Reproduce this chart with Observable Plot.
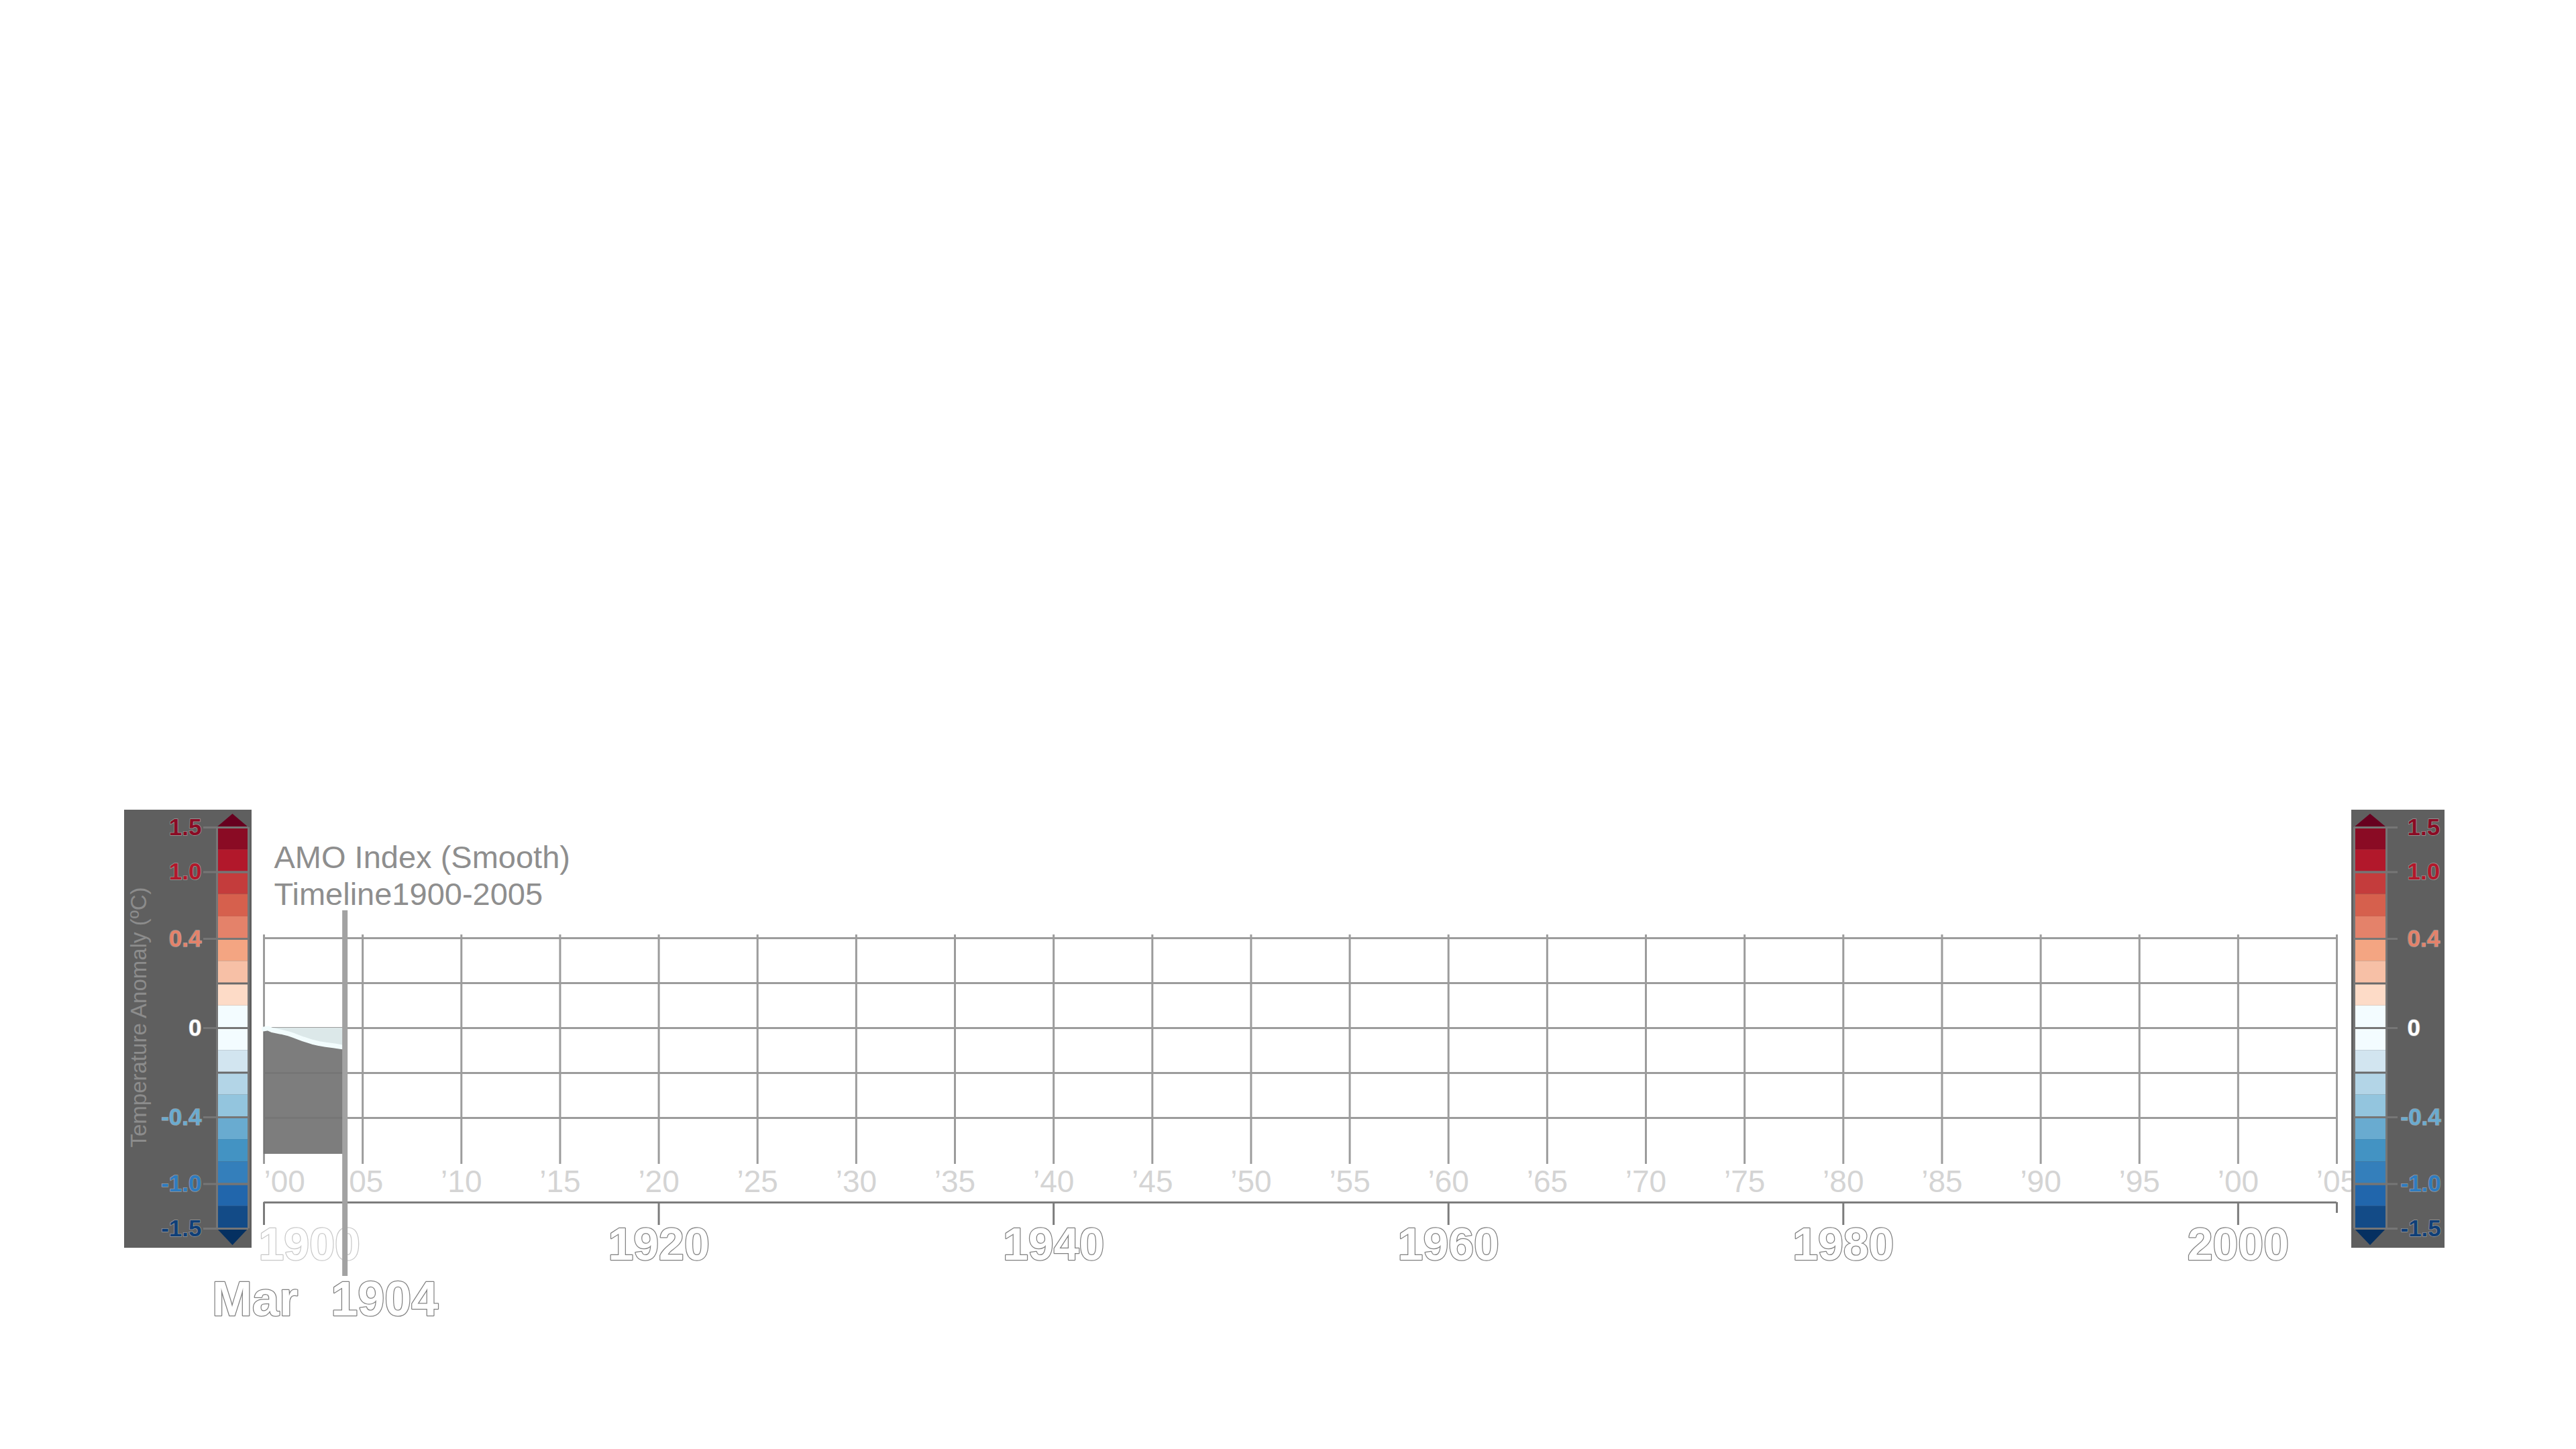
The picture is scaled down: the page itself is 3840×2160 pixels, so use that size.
<!DOCTYPE html>
<html>
<head>
<meta charset="utf-8">
<script src="https://cdn.jsdelivr.net/npm/d3@7"></script>
<script src="https://cdn.jsdelivr.net/npm/@observablehq/plot@0.6"></script>
<style>
  html, body { margin: 0; padding: 0; background: #ffffff; }
  #stage { position: relative; width: 3840px; height: 2160px; background: #ffffff; overflow: hidden;
           font-family: "Liberation Sans", Arial, Helvetica, sans-serif; }
  #stage > div { position: absolute; }
</style>
</head>
<body>
<div id="stage">
  <div id="main" style="left:0;top:0"></div>
  <div id="legL" style="left:185px;top:1207px"></div>
  <div id="legR" style="left:3505px;top:1207px"></div>
</div>
<script>
// ---------------- data ----------------
const titleLines = ["AMO Index (Smooth)", "Timeline1900-2005"];
const seriesYear  = [1900.0, 1900.2, 1900.41, 1900.86, 1901.2, 1901.54, 1901.99, 1902.45, 1902.79, 1903.13, 1903.58, 1903.92, 1904.1];
const seriesValue = [-0.004, -0.001, -0.009, -0.017, -0.024, -0.034, -0.049, -0.062, -0.069, -0.074, -0.079, -0.084, -0.086];
const areaFloor = -0.561;
const gridValues = [-0.4, -0.2, 0, 0.2, 0.4];
const gridYears = [1900,1905,1910,1915,1920,1925,1930,1935,1940,1945,1950,1955,1960,1965,1970,1975,1980,1985,1990,1995,2000,2005];
const decadeYears = [1900, 1920, 1940, 1960, 1980, 2000];
const endYear = [2005];
const cursorYear = 1904.1;
const cursorMonth = "Mar";
const cursorYearLabel = "1904";

// colour bar: 18 equal bands, top (1.5) to bottom (-1.5)
const bandColors = ["#8a0b24","#b2182b","#c43c3c","#d6604d","#e4826a","#f4a582","#f7c0a6","#fddbc7",
                    "#f3fcff","#f3fcff","#d2e5f0","#b3d5e7","#93c5de","#69abd0","#4393c3","#347fbb","#2166ac","#134b87"];
const arrowColors = ["#67001f", "#053061"];
const tickBands  = [0, 2, 5, 9, 13, 16, 18];
const tickLabels = ["1.5", "1.0", "0.4", "0", "-0.4", "-1.0", "-1.5"];
const tickColors = ["#8a0b24", "#b2182b", "#e4826a", "#ffffff", "#69abd0", "#2f7cc0", "#0f3f78"];
const separatorBands = [0, 2, 5, 7, 9, 11, 13, 16, 18];
const legendTitle = "Temperature Anomaly (ºC)";

// ---------------- main chart ----------------
const series = seriesYear.map((year, i) => ({year, value: seriesValue[i]}));
const gridColor = "#9c9c9c";
const fontFamily = '"Liberation Sans", Arial, Helvetica, sans-serif';
const yr2 = d => "\u2019" + String(d % 100).padStart(2, "0");
const bigText = {fontWeight: "bold", fill: "#ffffff", stroke: "#808080", strokeWidth: 2.5, paintOrder: "stroke"};

const main = Plot.plot({
  width: 3840, height: 2160,
  marginLeft: 393, marginRight: 357, marginTop: 1393, marginBottom: 425,
  style: {background: "transparent", fontFamily},
  x: {domain: [1900, 2005], axis: null, label: null},
  y: {domain: [-0.606, 0.415], axis: null, label: null},
  marks: [
    Plot.ruleX(gridYears, {stroke: gridColor, strokeWidth: 3}),
    Plot.ruleY(gridValues, {stroke: gridColor, strokeWidth: 3}),
    Plot.areaY(series, {x: "year", y1: 0, y2: "value", fill: "#dce8e9"}),
    Plot.areaY(series, {x: "year", y1: areaFloor, y2: "value", fill: "#737373", fillOpacity: 0.93}),
    Plot.lineY(series, {x: "year", y: "value", stroke: "#f2fcfd", strokeWidth: 7}),
    // lower axis
    Plot.ruleY([-0.606], {dy: 57, stroke: "#7c7c7c", strokeWidth: 3}),
    Plot.axisX({ticks: decadeYears, tickSize: 34, tickFormat: () => "", label: null, dy: 57, stroke: "#7c7c7c", strokeWidth: 3}),
    Plot.axisX({ticks: endYear, tickSize: 16, tickFormat: () => "", label: null, dy: 57, stroke: "#7c7c7c", strokeWidth: 3}),
    // small year labels
    Plot.text(gridYears.slice(0, 1), {x: d => d, frameAnchor: "bottom", dy: 27, lineAnchor: "middle", textAnchor: "start",
      text: yr2, fontSize: 46, fill: "#d4d4d4"}),
    Plot.text(gridYears.slice(1), {x: d => d, frameAnchor: "bottom", dy: 27, lineAnchor: "middle", textAnchor: "middle",
      text: yr2, fontSize: 46, fill: "#d4d4d4"}),
    // decade labels
    Plot.text(decadeYears.slice(0, 1), {x: d => d, frameAnchor: "bottom", dy: 121, dx: -8, lineAnchor: "middle", textAnchor: "start",
      text: d => String(d), fontSize: 68, ...bigText, stroke: "#c8c8c8"}),
    Plot.text(decadeYears.slice(1), {x: d => d, frameAnchor: "bottom", dy: 121, lineAnchor: "middle", textAnchor: "middle",
      text: d => String(d), fontSize: 68, ...bigText}),
    // cursor
    Plot.ruleX([cursorYear], {stroke: "#a2a2a2", strokeWidth: 8, insetTop: -36, insetBottom: -167}),
    Plot.text([cursorMonth], {x: cursorYear, frameAnchor: "bottom", dy: 202, dx: -70, lineAnchor: "middle", textAnchor: "end",
      text: d => d, fontSize: 72, ...bigText}),
    Plot.text([cursorYearLabel], {x: cursorYear, frameAnchor: "bottom", dy: 202, dx: -21, lineAnchor: "middle", textAnchor: "start",
      text: d => d, fontSize: 72, ...bigText}),
    // title
    Plot.text([titleLines[0]], {frameAnchor: "top-left", dx: 15, dy: -100, lineAnchor: "bottom", textAnchor: "start",
      text: d => d, fontSize: 47, fill: "#8e8e8e"}),
    Plot.text([titleLines[1]], {frameAnchor: "top-left", dx: 15, dy: -45, lineAnchor: "bottom", textAnchor: "start",
      text: d => d, fontSize: 47, fill: "#8e8e8e"})
  ]
});
document.getElementById("main").appendChild(main);

// ---------------- colour bar legends ----------------
const bandIdx = bandColors.map((_, i) => i);
function colorbar({width, barLeft, barRight, side}) {
  const height = 653, barTop = 26, barBottom = 624;
  const left = side === "left";
  const marks = [
    Plot.rect(bandIdx, {y1: d => d, y2: d => d + 1, fill: d => bandColors[d]}),
    Plot.areaY([0, 0.5, 1], {x: d => d, y1: 0, y2: d => d === 0.5 ? -0.6 : 0, fill: arrowColors[0]}),
    Plot.areaY([0, 0.5, 1], {x: d => d, y1: 18, y2: d => d === 0.5 ? 18.75 : 18, fill: arrowColors[1]}),
    Plot.ruleY(separatorBands, {stroke: "#6a6a6a", strokeWidth: 3}),
    Plot.ruleY(tickBands, left ? {stroke: "#767676", strokeWidth: 3, insetLeft: -20}
                               : {stroke: "#767676", strokeWidth: 3, insetRight: -17}),
    Plot.ruleX([0, 1], {y1: 0, y2: 18, stroke: "#767676", strokeWidth: 3}),
  ];
  const labelStyle = {y: d => d, frameAnchor: left ? "left" : "right", lineAnchor: "middle",
    fontSize: 35, fontWeight: "bold", stroke: "#9a9a9a", strokeWidth: 1.5, paintOrder: "stroke"};
  if (left) {
    marks.push(Plot.text(tickBands, {...labelStyle, dx: -23, textAnchor: "end",
      text: (d, i) => tickLabels[i], fill: (d, i) => tickColors[i]}));
    marks.push(Plot.text([legendTitle], {frameAnchor: "left", textAnchor: "middle", dx: -116, dy: -16, rotate: -90,
      text: d => d, fontSize: 33, fill: "#8c8c8c"}));
  } else {
    const pos = tickBands.map((d, i) => i).filter(i => !tickLabels[i].startsWith("-"));
    const neg = tickBands.map((d, i) => i).filter(i => tickLabels[i].startsWith("-"));
    marks.push(Plot.text(pos, {...labelStyle, y: i => tickBands[i], dx: 31, textAnchor: "start",
      text: i => tickLabels[i], fill: i => tickColors[i]}));
    marks.push(Plot.text(neg, {...labelStyle, y: i => tickBands[i], dx: 21, textAnchor: "start",
      text: i => tickLabels[i], fill: i => tickColors[i]}));
  }
  return Plot.plot({
    width, height,
    marginLeft: barLeft, marginRight: width - barRight, marginTop: barTop, marginBottom: height - barBottom,
    style: {background: "#5f5f5f", fontFamily, overflow: "visible"},
    x: {domain: [0, 1], axis: null, label: null},
    y: {domain: [0, 18], reverse: true, axis: null, label: null},
    color: {type: "identity"},
    marks
  });
}
document.getElementById("legL").appendChild(colorbar({width: 190, barLeft: 138, barRight: 185, side: "left"}));
document.getElementById("legR").appendChild(colorbar({width: 139, barLeft: 4, barRight: 52, side: "right"}));
</script>
</body>
</html>
